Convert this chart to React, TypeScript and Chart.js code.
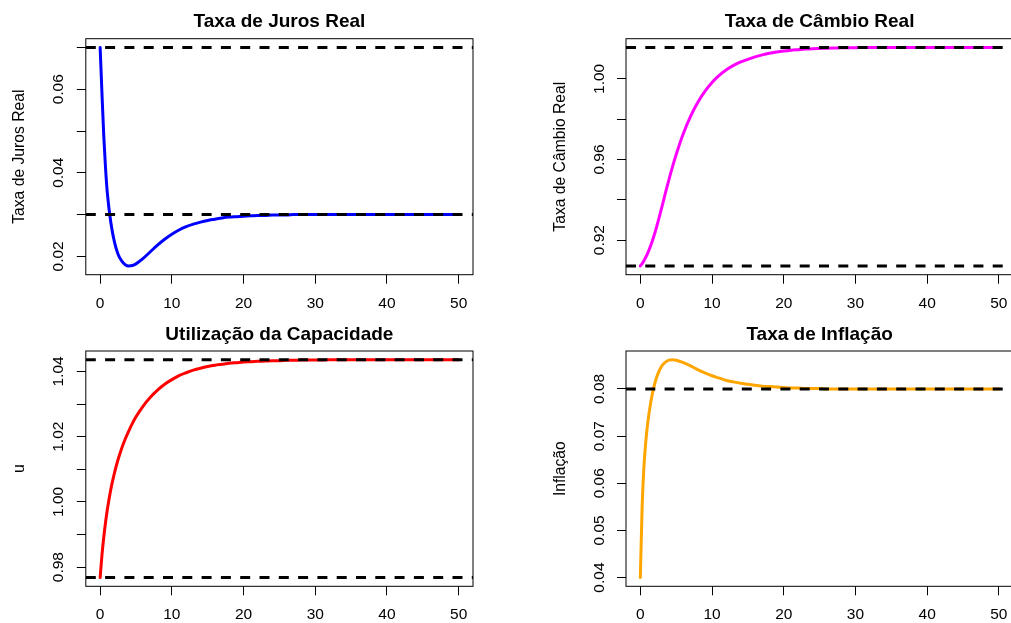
import React, { useEffect, useRef } from "react";
import { Chart, registerables } from "chart.js";

Chart.register(...registerables);

const FONT = '"Liberation Sans", Arial, Helvetica, sans-serif';

// time axis (periods)
const time = [
  0, 0.25, 0.5, 0.75, 1, 1.5, 2, 2.5, 3, 3.5, 4, 4.5, 5,
  6, 7, 8, 9, 10, 11, 12, 13, 14, 15, 16, 17, 18, 19, 20,
  21, 22, 23, 24, 25, 26, 27, 28, 29, 30, 31, 32, 33, 34, 35,
  36, 37, 38, 39, 40, 41, 42, 43, 44, 45, 46, 47, 48, 49, 50,
];

// Taxa de Juros Real
const jurosReal = [
  0.07, 0.0592, 0.049, 0.0412, 0.0352, 0.028, 0.0234, 0.0205, 0.0189, 0.018, 0.0177, 0.0178, 0.0182,
  0.0195, 0.0211, 0.0227, 0.0241, 0.0253, 0.0263, 0.0271, 0.0277, 0.0282, 0.0286, 0.0289, 0.0292, 0.0294, 0.0295, 0.0296,
  0.0297, 0.0298, 0.0298, 0.0299, 0.0299, 0.0299, 0.03, 0.03, 0.03, 0.03, 0.03, 0.03, 0.03, 0.03, 0.03,
  0.03, 0.03, 0.03, 0.03, 0.03, 0.03, 0.03, 0.03, 0.03, 0.03, 0.03, 0.03, 0.03, 0.03, 0.03,
];

// Taxa de Câmbio Real
const cambioReal = [
  0.9072, 0.9084, 0.9098, 0.9115, 0.9133, 0.9178, 0.9233, 0.9296, 0.9364, 0.9434, 0.9502, 0.9566, 0.9625,
  0.9729, 0.9814, 0.9883, 0.9938, 0.9982, 1.0017, 1.0045, 1.0067, 1.0084, 1.0097, 1.0109, 1.0119, 1.0127, 1.0133, 1.0138,
  1.0142, 1.0145, 1.0148, 1.015, 1.0151, 1.0152, 1.0153, 1.0154, 1.0155, 1.0155, 1.0156, 1.0156, 1.0156, 1.0156, 1.0156,
  1.0156, 1.0156, 1.0156, 1.0156, 1.0156, 1.0156, 1.0156, 1.0156, 1.0156, 1.0156, 1.0156, 1.0156, 1.0156, 1.0156, 1.0156,
];

// Utilização da Capacidade (u)
const utilizacao = [
  0.9768, 0.9836, 0.9891, 0.9937, 0.9976, 1.004, 1.0089, 1.013, 1.0164, 1.0193, 1.0218, 1.0241, 1.0261,
  1.0294, 1.0321, 1.0343, 1.0361, 1.0375, 1.0387, 1.0396, 1.0404, 1.041, 1.0415, 1.0419, 1.0422, 1.0425, 1.0427, 1.0429,
  1.043, 1.0431, 1.0432, 1.0433, 1.0433, 1.0434, 1.0434, 1.0435, 1.0435, 1.0435, 1.0435, 1.0436, 1.0436, 1.0436, 1.0436,
  1.0436, 1.0436, 1.0436, 1.0436, 1.0436, 1.0436, 1.0436, 1.0436, 1.0436, 1.0436, 1.0436, 1.0436, 1.0436, 1.0436, 1.0436,
];

// Taxa de Inflação
const inflacao = [
  0.04, 0.055, 0.0635, 0.0686, 0.0724, 0.0776, 0.0811, 0.0834, 0.0849, 0.0857, 0.0861, 0.0862, 0.0861,
  0.0856, 0.0849, 0.0841, 0.0834, 0.0828, 0.0823, 0.0818, 0.0815, 0.0812, 0.081, 0.0808, 0.0806, 0.0805, 0.0804, 0.0803,
  0.0802, 0.0802, 0.0801, 0.0801, 0.0801, 0.08, 0.08, 0.08, 0.08, 0.08, 0.08, 0.08, 0.08, 0.08, 0.08,
  0.08, 0.08, 0.08, 0.08, 0.08, 0.08, 0.08, 0.08, 0.08, 0.08, 0.08, 0.08, 0.08, 0.08, 0.08,
];

// reference (dashed) levels
const jurosRefs = [0.07, 0.03];
const cambioRefs = [1.0156, 0.9072];
const utilizacaoRefs = [1.0436, 0.9768];
const inflacaoRefs = [0.08];

// ticks
const xTicks = [0, 10, 20, 30, 40, 50];
const xTickLabels = ["0", "10", "20", "30", "40", "50"];
const jurosTicks = [0.02, 0.03, 0.04, 0.05, 0.06, 0.07];
const jurosTickLabels = ["0.02", "", "0.04", "", "0.06", ""];
const cambioTicks = [0.92, 0.94, 0.96, 0.98, 1.0];
const cambioTickLabels = ["0.92", "", "0.96", "", "1.00"];
const utilizacaoTicks = [0.98, 0.99, 1.0, 1.01, 1.02, 1.03, 1.04];
const utilizacaoTickLabels = ["0.98", "", "1.00", "", "1.02", "", "1.04"];
const inflacaoTicks = [0.04, 0.05, 0.06, 0.07, 0.08];
const inflacaoTickLabels = ["0.04", "0.05", "0.06", "0.07", "0.08"];

type PanelCfg = {
  title: string;
  yTitle: string;
  values: number[];
  color: string;
  refs: number[];
  yTicks: number[];
  yTickLabels: string[];
  cx: number; cy: number; cw: number; ch: number;
  box: { l: number; t: number; r: number; b: number };
};

const panels: PanelCfg[] = [
  {
    title: "Taxa de Juros Real", yTitle: "Taxa de Juros Real", values: jurosReal, color: "#0000FF",
    refs: jurosRefs, yTicks: jurosTicks, yTickLabels: jurosTickLabels,
    cx: 0, cy: 0, cw: 540, ch: 312, box: { l: 85.8, t: 38.7, r: 473, b: 274.7 },
  },
  {
    title: "Taxa de Câmbio Real", yTitle: "Taxa de Câmbio Real", values: cambioReal, color: "#FF00FF",
    refs: cambioRefs, yTicks: cambioTicks, yTickLabels: cambioTickLabels,
    cx: 540, cy: 0, cw: 480, ch: 312, box: { l: 626, t: 38.7, r: 1013.2, b: 274.7 },
  },
  {
    title: "Utilização da Capacidade", yTitle: "u", values: utilizacao, color: "#FF0000",
    refs: utilizacaoRefs, yTicks: utilizacaoTicks, yTickLabels: utilizacaoTickLabels,
    cx: 0, cy: 312, cw: 540, ch: 311, box: { l: 85.8, t: 351, r: 473, b: 586.3 },
  },
  {
    title: "Taxa de Inflação", yTitle: "Inflação", values: inflacao, color: "#FFA500",
    refs: inflacaoRefs, yTicks: inflacaoTicks, yTickLabels: inflacaoTickLabels,
    cx: 540, cy: 312, cw: 480, ch: 311, box: { l: 626, t: 351, r: 1013.2, b: 586.3 },
  },
];

const rStylePlugin = {
  id: "rStyle",
  afterDraw(chart: any, _args: any, opts: any) {
    const { ctx, chartArea: a, scales } = chart;
    const xs = scales.x;
    const ys = scales.y;
    ctx.save();
    ctx.strokeStyle = "#000";
    ctx.lineWidth = 1;
    ctx.strokeRect(a.left, a.top, a.right - a.left, a.bottom - a.top);
    ctx.fillStyle = "#000";
    ctx.font = `15.5px ${FONT}`;
    ctx.textAlign = "center";
    ctx.textBaseline = "alphabetic";
    xs.ticks.forEach((t: any, i: number) => {
      const lab = opts.xLabels[i];
      if (lab) ctx.fillText(lab, xs.getPixelForValue(t.value), a.bottom + 33);
    });
    ys.ticks.forEach((t: any, i: number) => {
      const lab = opts.yLabels[i];
      if (!lab) return;
      const y = ys.getPixelForValue(t.value);
      ctx.save();
      ctx.translate(a.left - 22.5, y);
      ctx.rotate(-Math.PI / 2);
      ctx.fillText(lab, 0, 0);
      ctx.restore();
    });
    ctx.font = `15.7px ${FONT}`;
    ctx.save();
    ctx.translate(a.left - 61.5, (a.top + a.bottom) / 2);
    ctx.rotate(-Math.PI / 2);
    ctx.fillText(opts.yTitle, 0, 0);
    ctx.restore();
    ctx.font = `bold 19px ${FONT}`;
    ctx.fillText(opts.title, (a.left + a.right) / 2, a.top - 11.5);
    ctx.restore();
  },
};

function Panel({ cfg }: { cfg: PanelCfg }) {
  const ref = useRef<HTMLCanvasElement>(null);
  useEffect(() => {
    const canvas = ref.current;
    if (!canvas) return;
    const vmin = Math.min(...cfg.values);
    const vmax = Math.max(...cfg.values);
    const pad = (vmax - vmin) * 0.04;
    const tickify = (arr: number[]) => (scale: any) => {
      scale.ticks = arr.map((v) => ({ value: v }));
    };
    const grid = {
      drawOnChartArea: false,
      drawTicks: true,
      tickLength: 9,
      tickColor: "#000",
      tickWidth: 1,
      color: "#000",
      lineWidth: 1,
    };
    const refSets = cfg.refs.map((v) => ({
      data: [{ x: -2, y: v }, { x: 52, y: v }],
      borderColor: "#000",
      borderWidth: 3,
      borderDash: [10, 9.3],
      pointRadius: 0,
      fill: false,
    }));
    const chart = new Chart(canvas, {
      type: "line",
      data: {
        datasets: [
          ...refSets,
          {
            data: time.map((t, i) => ({ x: t, y: cfg.values[i] })),
            borderColor: cfg.color,
            borderWidth: 3,
            pointRadius: 0,
            cubicInterpolationMode: "monotone",
            borderJoinStyle: "round",
            borderCapStyle: "round",
            fill: false,
          },
        ],
      },
      options: {
        responsive: false,
        animation: false,
        events: [],
        layout: {
          padding: {
            left: cfg.box.l - cfg.cx,
            top: cfg.box.t - cfg.cy,
            right: cfg.cx + cfg.cw - cfg.box.r,
            bottom: cfg.cy + cfg.ch - cfg.box.b,
          },
        },
        scales: {
          x: {
            type: "linear",
            min: -2,
            max: 52,
            afterBuildTicks: tickify(xTicks),
            afterFit: (s: any) => { s.height = 0; },
            ticks: { display: false },
            grid,
            border: { display: false },
          },
          y: {
            type: "linear",
            min: vmin - pad,
            max: vmax + pad,
            afterBuildTicks: tickify(cfg.yTicks),
            afterFit: (s: any) => { s.width = 0; },
            ticks: { display: false },
            grid,
            border: { display: false },
          },
        },
        plugins: {
          legend: { display: false },
          tooltip: { enabled: false },
          title: { display: false },
          rStyle: {
            xLabels: xTickLabels,
            yLabels: cfg.yTickLabels,
            yTitle: cfg.yTitle,
            title: cfg.title,
          },
        } as any,
      },
      plugins: [rStylePlugin],
    } as any);
    return () => chart.destroy();
  }, [cfg]);
  return (
    <canvas
      ref={ref}
      width={cfg.cw}
      height={cfg.ch}
      style={{ position: "absolute", left: cfg.cx, top: cfg.cy, width: cfg.cw, height: cfg.ch }}
    />
  );
}

export default function App() {
  return (
    <div
      style={{
        position: "fixed",
        left: 0,
        top: 0,
        width: 1011,
        height: 623,
        overflow: "hidden",
        background: "#fff",
      }}
    >
      {panels.map((p, i) => (
        <Panel key={i} cfg={p} />
      ))}
    </div>
  );
}
